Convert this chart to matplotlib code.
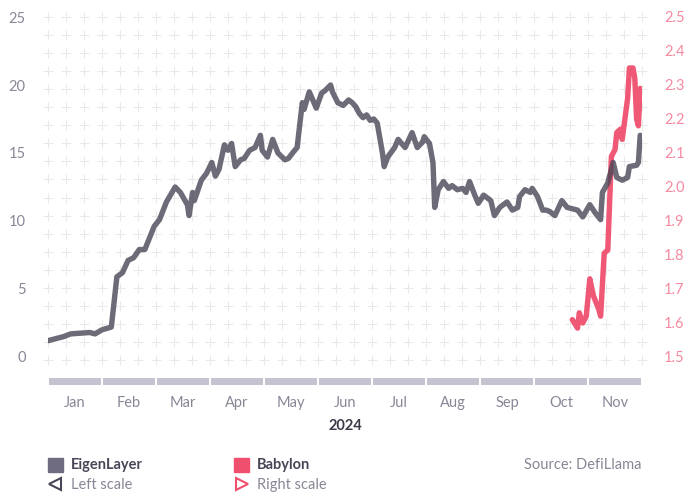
import calendar
import numpy as np
import matplotlib
matplotlib.use("Agg")
import matplotlib.pyplot as plt
from matplotlib.lines import Line2D

plt.rcParams['font.family'] = ['Lato', 'DejaVu Sans']

# EigenLayer (left scale) and Babylon (right scale)
eigen_dates = ["01-01", "01-10", "01-14", "01-25", "01-28", "02-01", "02-06", "02-09", "02-12",
               "02-15", "02-18", "02-21", "02-24", "02-29", "03-03", "03-07", "03-12", "03-15",
               "03-19", "03-20", "03-22", "03-23", "03-27", "03-30", "04-02", "04-04", "04-06",
               "04-09", "04-11", "04-13", "04-15", "04-18", "04-20", "04-23", "04-26", "04-29",
               "04-30", "05-03", "05-06", "05-09", "05-13", "05-15", "05-18", "05-20", "05-23",
               "05-24", "05-27", "05-31", "06-03", "06-05", "06-08", "06-09", "06-12", "06-15",
               "06-18", "06-20", "06-22", "06-24", "06-26", "06-28", "06-30", "07-02", "07-04",
               "07-07", "07-08", "07-10", "07-14", "07-16", "07-20", "07-24", "07-27", "07-30",
               "07-31", "08-03", "08-05", "08-06", "08-08", "08-11", "08-14", "08-16", "08-19",
               "08-22", "08-24", "08-26", "08-29", "08-31", "09-03", "09-07", "09-09", "09-12",
               "09-16", "09-19", "09-22", "09-23", "09-26", "09-29", "09-30", "10-03", "10-06",
               "10-08", "10-10", "10-13", "10-17", "10-20", "10-26", "10-29", "11-02", "11-05",
               "11-08", "11-09", "11-12", "11-15", "11-17", "11-20", "11-23", "11-24", "11-28",
               "11-29", "11-30"]
eigen_vals = [1.2, 1.5, 1.7, 1.8, 1.7, 2.0, 2.2, 5.9, 6.2,
              7.1, 7.3, 7.9, 7.9, 9.6, 10.1, 11.4, 12.5, 12.1,
              11.2, 10.4, 12.1, 11.5, 13.0, 13.5, 14.3, 13.3, 13.8,
              15.6, 15.2, 15.7, 14.0, 14.5, 14.6, 15.2, 15.4, 16.3,
              15.2, 14.7, 16.0, 15.0, 14.5, 14.6, 15.1, 15.4, 18.7,
              18.2, 19.5, 18.3, 19.4, 19.6, 20.0, 19.5, 18.7, 18.5,
              18.9, 18.7, 18.4, 17.9, 17.6, 17.8, 17.4, 17.5, 17.2,
              15.0, 14.0, 14.7, 15.4, 16.0, 15.4, 16.5, 15.4, 15.8,
              16.2, 15.7, 14.3, 11.0, 12.3, 12.9, 12.4, 12.6, 12.3,
              12.4, 12.1, 12.9, 11.9, 11.3, 11.9, 11.5, 10.4, 11.0,
              11.4, 10.8, 11.0, 11.8, 12.3, 12.1, 12.4, 11.8, 10.8,
              10.8, 10.7, 10.4, 11.5, 11.0, 10.8, 10.3, 11.2, 10.6,
              10.1, 12.1, 12.8, 14.3, 13.2, 13.0, 13.2, 14.0, 14.1,
              14.3, 16.3]

babylon_dates = ["10-23", "10-26", "10-27", "10-29", "10-31", "11-02", "11-04", "11-07", "11-08",
                 "11-10", "11-12", "11-14", "11-16", "11-17", "11-19", "11-20", "11-23", "11-24",
                 "11-26", "11-27", "11-28", "11-29", "11-30"]
babylon_vals = [1.61, 1.585, 1.63, 1.60, 1.62, 1.73, 1.68, 1.64, 1.62,
                1.805, 1.815, 2.09, 2.11, 2.16, 2.17, 2.14, 2.26, 2.35,
                2.35, 2.32, 2.2, 2.18, 2.29]

months = ["Jan", "Feb", "Mar", "Apr", "May", "Jun", "Jul", "Aug", "Sep", "Oct", "Nov"]
left_ticks = [0, 5, 10, 15, 20, 25]
right_ticks = [1.5, 1.6, 1.7, 1.8, 1.9, 2.0, 2.1, 2.2, 2.3, 2.4, 2.5]

PINK = "#f0506e"
LABEL = "#8a8696"
W, H = 696, 493


def month_pos(s):
    m, d = (int(p) for p in s.split("-"))
    return (m - 1) + (d - 1) / calendar.monthrange(2024, m)[1]


def fx(x):
    return x / W


def fy(y):
    return 1 - y / H


fig = plt.figure(figsize=(W / 100, H / 100), dpi=100)
fig.patch.set_facecolor("white")

top_px, bot_px = 10, 365
ax = fig.add_axes([fx(48), fy(bot_px), fx(642) - fx(48), (bot_px - top_px) / H])
ax.set_xlim(0, 11)
ax.set_ylim(-(bot_px - 357) / 13.6, 25 + (17 - top_px) / 13.6)
for s in ax.spines.values():
    s.set_visible(False)
ax.set_xticks([])
ax.set_yticks(left_ticks)
ax.tick_params(axis="y", length=0, pad=16, labelsize=10.5, labelcolor=LABEL)

# plus-sign background pattern
gx = np.linspace(0, 11, 34)
gy_px = np.linspace(17, 360, 20)
gy = (357 - gy_px) / 13.6
GX, GY = np.meshgrid(gx, gy)
ax.scatter(GX.ravel(), GY.ravel(), marker="+", s=60, color="#e9e9e9", linewidths=0.75,
           zorder=0, clip_on=False)

ax2 = ax.twinx()
ax2.set_ylim(1.5 - (bot_px - 357) / 340, 2.5 + (17 - top_px) / 340)
for s in ax2.spines.values():
    s.set_visible(False)
ax2.set_yticks(right_ticks)
ax2.set_yticklabels([f"{t:.1f}" for t in right_ticks])
ax2.tick_params(axis="y", length=0, pad=16, labelsize=10.5, labelcolor="#f58aa0")

ax2.plot([month_pos(d) for d in babylon_dates], babylon_vals, color=PINK, lw=3.9,
         alpha=0.95, solid_capstyle="round", solid_joinstyle="round", zorder=2)
ax2.plot([month_pos(d) for d in eigen_dates],
         [1.5 + v * 13.6 / 340 for v in eigen_vals], color="#4a4658", lw=3.9,
         alpha=0.8, solid_capstyle="round", solid_joinstyle="round", zorder=3)

# month bands
bax = fig.add_axes([fx(48), fy(385), fx(642) - fx(48), 7 / H])
bax.set_xlim(0, 11)
bax.set_ylim(0, 1)
bax.bar(np.arange(11) + 0.5, 1, width=0.955, color="#c6c3d1", align="center")
for s in bax.spines.values():
    s.set_visible(False)
bax.set_yticks([])
bax.set_xticks(np.arange(11) + 0.5)
bax.set_xticklabels(months)
bax.tick_params(axis="x", length=0, pad=8, labelsize=10.5, labelcolor=LABEL)

fig.text(fx(345), fy(426), "2024", ha="center", va="center", fontsize=10.5,
         fontweight="bold", color="#3d3a48")

# legend
fig.patches.append(plt.Rectangle((fx(48), fy(472)), 15 / W, 14 / H, color="#6f6b80",
                                 transform=fig.transFigure))
fig.patches.append(plt.Rectangle((fx(234), fy(472)), 15 / W, 14 / H, color=PINK,
                                 transform=fig.transFigure))
fig.text(fx(71), fy(465), "EigenLayer", va="center", fontsize=10.5, fontweight="bold",
         color="#4a4658")
fig.text(fx(257), fy(465), "Babylon", va="center", fontsize=10.5, fontweight="bold",
         color="#4a4658")
fig.add_artist(Line2D([fx(55)], [fy(484)], marker="<", markersize=8.5, mfc="none",
                      mec="#4a4658", mew=1.5, transform=fig.transFigure))
fig.add_artist(Line2D([fx(242)], [fy(484)], marker=">", markersize=8.5, mfc="none",
                      mec=PINK, mew=1.5, transform=fig.transFigure))
fig.text(fx(71), fy(485), "Left scale", va="center", fontsize=10.5, color=LABEL)
fig.text(fx(257), fy(485), "Right scale", va="center", fontsize=10.5, color=LABEL)
fig.text(fx(641), fy(465), "Source: DefiLlama", va="center", ha="right", fontsize=10.5,
         color=LABEL)

fig.savefig("out.png", dpi=100)
